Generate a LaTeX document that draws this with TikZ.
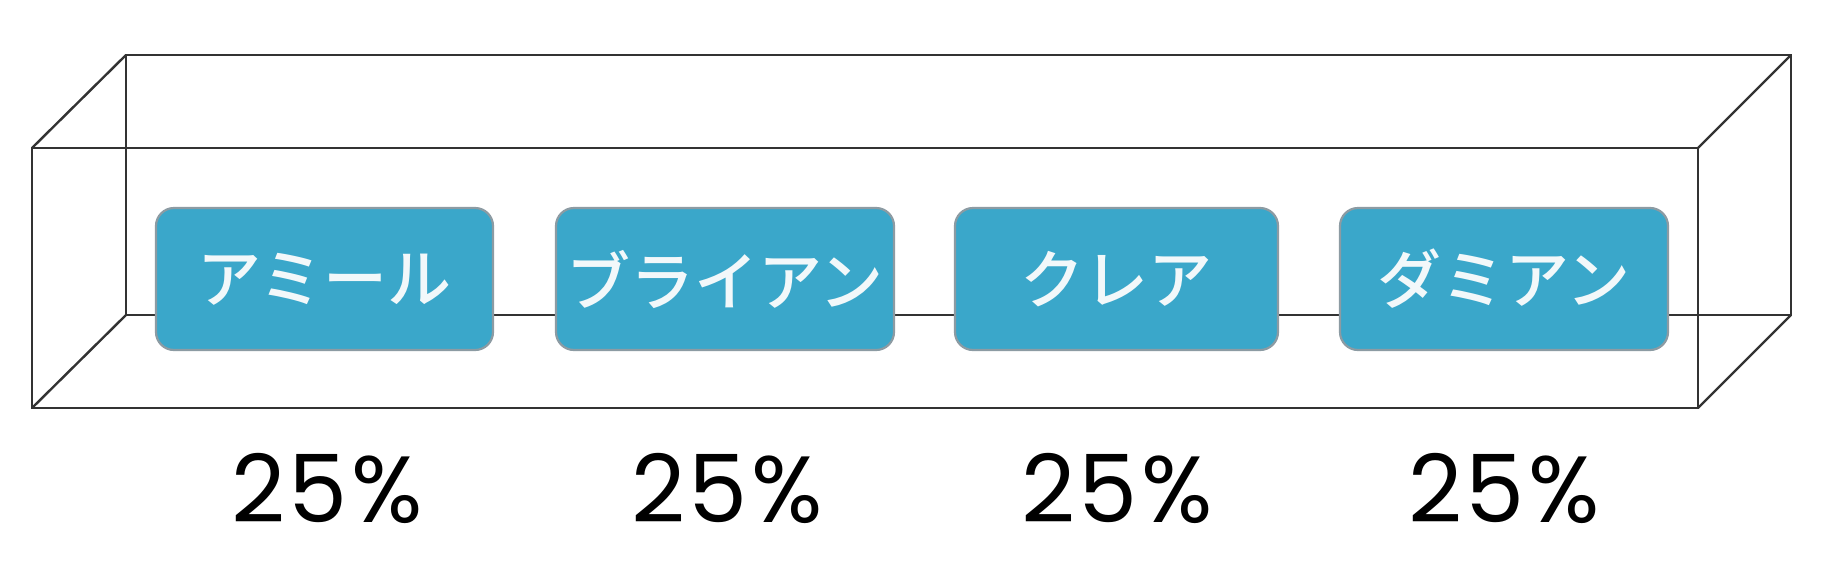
\documentclass[tikz,border=0pt]{standalone}
\usepackage{fontspec}
\newfontfamily\jpfont{Noto Sans CJK JP Medium}
\newfontfamily\pctfont[LetterSpace=4]{Poppins}
\definecolor{boxfill}{HTML}{3AA7CA}
\definecolor{boxedge}{HTML}{8C9BA3}
\definecolor{wire}{HTML}{333333}
\definecolor{jptext}{HTML}{F2F8FA}
\tikzset{
  wireline/.style={draw=wire, line width=2.4pt},
  namebox/.style={draw=boxedge, line width=2.2pt, fill=boxfill, rounded corners=18pt,
    minimum height=142pt, inner sep=0pt, text=jptext, font=\jpfont\fontsize{64}{64}\selectfont},
  pct/.style={font=\pctfont\fontsize{94}{94}\selectfont, text=black, inner sep=0pt}
}
\begin{document}
\begin{tikzpicture}[x=1pt,y=-1pt]
\useasboundingbox (0,0) rectangle (1839,560);
\fill[white] (0,0) rectangle (1839,560);
% corners of the box
\coordinate (fTL) at (32,148);
\coordinate (fTR) at (1698,148);
\coordinate (fBL) at (32,408);
\coordinate (fBR) at (1698,408);
\coordinate (bTL) at (126,55);
\coordinate (bTR) at (1791,55);
\coordinate (bBL) at (126,315);
\coordinate (bBR) at (1791,315);
% back face
\draw[wireline] (bTL) -- (bTR) -- (bBR) -- (bBL) -- cycle;
% front face
\draw[wireline] (fTL) -- (fTR) -- (fBR) -- (fBL) -- cycle;
% depth edges
\draw[wireline] (fTL) -- (bTL);
\draw[wireline] (fBL) -- (bBL);
\draw[wireline] (fTR) -- (bTR);
\draw[wireline] (fBR) -- (bBR);
% name boxes
\node[namebox, minimum width=337pt] (amir) at (324.5,279) {アミール};
\node[namebox, minimum width=338pt] (brian) at (725,279) {ブライアン};
\node[namebox, minimum width=323pt] (claire) at (1116.5,279) {クレア};
\node[namebox, minimum width=328pt] (damian) at (1504,279) {ダミアン};
% percentages
\node[pct, anchor=base] (pa) at (327,522) {25\%};
\node[pct, anchor=base] (pb) at (727,522) {25\%};
\node[pct, anchor=base] (pc) at (1117,522) {25\%};
\node[pct, anchor=base] (pd) at (1504,522) {25\%};
\end{tikzpicture}
\end{document}
